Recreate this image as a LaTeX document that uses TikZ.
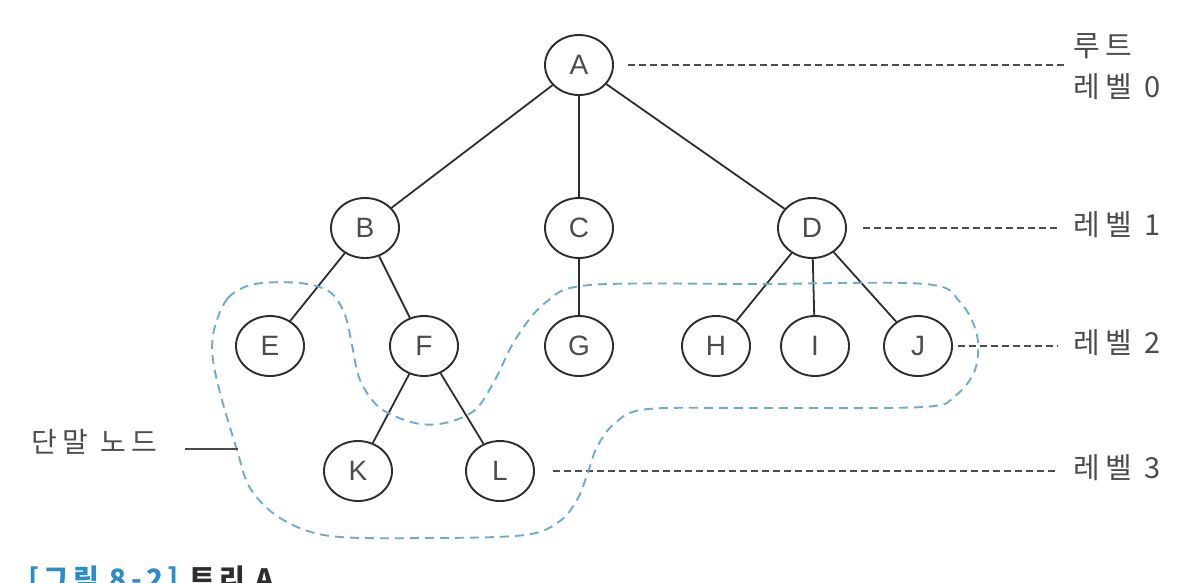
\documentclass[tikz,border=0pt]{standalone}
\usepackage{fontspec}
\setmainfont{Liberation Sans}
\newfontfamily\kr[LetterSpace=20]{Noto Sans CJK KR}
\newfontfamily\krcap[LetterSpace=15]{Noto Sans CJK KR}
\usetikzlibrary{shapes.geometric}
\definecolor{leafblue}{RGB}{110,170,210}
\definecolor{capblue}{RGB}{40,140,205}
\definecolor{ink}{RGB}{45,45,45}
\begin{document}
\begin{tikzpicture}[x=1pt,y=-1pt,
  tnode/.style={ellipse,draw=ink,line width=1.9pt,minimum width=68pt,minimum height=60pt,inner sep=0pt,font=\fontsize{28}{28}\selectfont,text=ink!85},
  edge/.style={draw=ink,line width=1.8pt},
  lvl/.style={draw=ink!85,line width=1.7pt,dash pattern=on 7pt off 4pt},
  lbl/.style={font=\kr\fontsize{29}{32}\selectfont,text=ink!85,inner sep=0pt,anchor=west},
  leaf/.style={draw=leafblue,line width=1.9pt,dash pattern=on 9pt off 6pt}]
\useasboundingbox (0,0) rectangle (1190,582);

% tree nodes
\node[tnode] (A) at (579,65) {A};
\node[tnode] (B) at (365,228) {B};
\node[tnode] (C) at (579,228) {C};
\node[tnode] (D) at (812,228) {D};
\node[tnode] (E) at (270,346) {E};
\node[tnode] (F) at (424,346) {F};
\node[tnode] (G) at (579,346) {G};
\node[tnode] (H) at (716,346) {H};
\node[tnode] (I) at (815,346) {I};
\node[tnode] (J) at (918,346) {J};
\node[tnode] (K) at (358,471) {K};
\node[tnode] (L) at (500,471) {L};

% edges
\draw[edge] (A) -- (B);
\draw[edge] (A) -- (C);
\draw[edge] (A) -- (D);
\draw[edge] (B) -- (E);
\draw[edge] (B) -- (F);
\draw[edge] (C) -- (G);
\draw[edge] (D) -- (H);
\draw[edge] (D) -- (I);
\draw[edge] (D) -- (J);
\draw[edge] (F) -- (K);
\draw[edge] (F) -- (L);

% level labels
\node[lbl] (root) at (1073,46) {루트};
\node[lbl] (lv0) at (1073,87) {레벨 0};
\node[lbl] (lv1) at (1073,225) {레벨 1};
\node[lbl] (lv2) at (1073,343) {레벨 2};
\node[lbl] (lv3) at (1073,468) {레벨 3};
\coordinate (e0) at (1064,65);

\draw[lvl] ([xshift=14pt]A.east) -- (e0);
\draw[lvl] ([xshift=16pt]D.east) -- ([xshift=-16pt]lv1.west |- D);
\draw[lvl] ([xshift=5pt]J.east) -- ([xshift=-16pt]lv2.west |- J);
\draw[lvl] ([xshift=18pt]L.east) -- ([xshift=-16pt]lv3.west |- L);

% leaf region
\draw[leaf] plot[smooth cycle, tension=0.55] coordinates {
 (214,330) (228,298) (255,284) (300,283) (330,292) (345,315) (352,345)
 (360,380) (380,408) (415,423) (445,423) (475,410) (495,380) (515,340)
 (545,303) (590,285) (760,284) (925,284) (960,302) (977,335) (975,370)
 (955,396) (923,407) (760,408) (648,409) (615,423) (597,447) (588,472)
 (578,498) (560,521) (525,535) (430,538) (330,536) (280,518) (250,488)
 (237,450) (222,400) (213,360)};

\node[font=\kr\fontsize{28}{30}\selectfont,text=ink!85,inner sep=0pt,anchor=west] (leaflbl) at (31,442) {단말 노드};
\coordinate (leafpt) at (238,449);
\draw[draw=ink!85,line width=1.7pt] (185,449) -- (leafpt);

% caption (cut by the page edge, as in the reference)
\node[anchor=north west,inner sep=0pt,font=\krcap\bfseries\fontsize{28}{30}\selectfont,text=ink] (cap) at (28,566) {\textcolor{capblue}{[그림 8-2]} 트리 A};
\end{tikzpicture}
\end{document}
